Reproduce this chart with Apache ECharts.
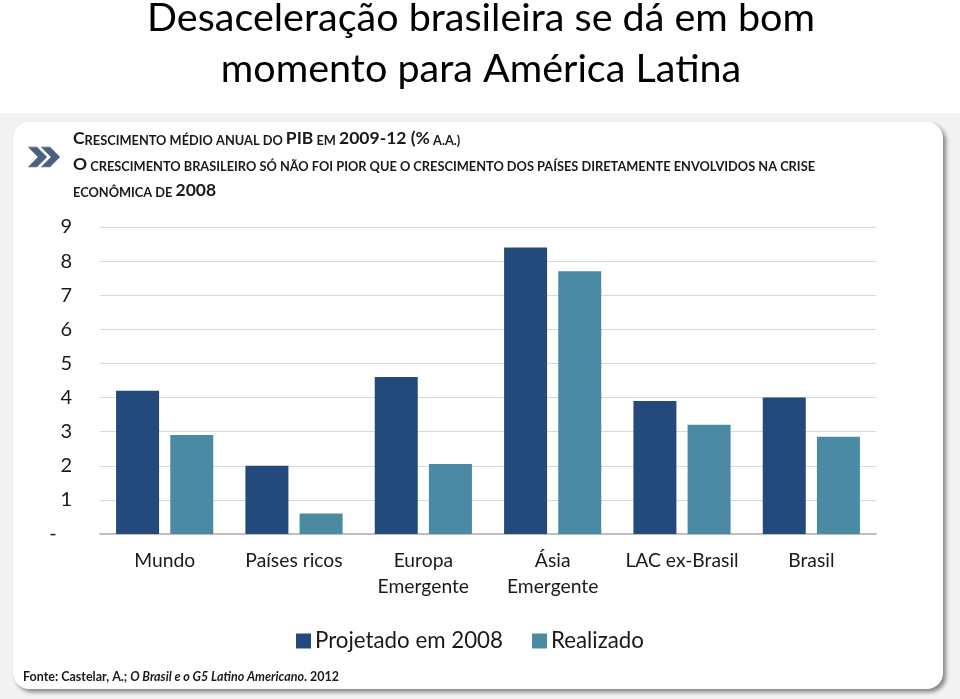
<!DOCTYPE html>
<html>
<head>
<meta charset="utf-8">
<script src="https://cdn.jsdelivr.net/npm/echarts@6/dist/echarts.min.js"></script>
<style>html,body{margin:0;padding:0;background:#f2f2f2}#c{width:960px;height:699px}</style>
</head>
<body>
<div id="c"></div>
<script>
// ---- data ----
const categories = ['Mundo', 'Países ricos', 'Europa\nEmergente', 'Ásia\nEmergente', 'LAC ex-Brasil', 'Brasil'];
const projetado = [4.2, 2.0, 4.6, 8.4, 3.9, 4.0];
const realizado = [2.9, 0.6, 2.05, 7.7, 3.2, 2.85];
const seriesNames = ['Projetado em 2008', 'Realizado'];
const yMin = 0, yMax = 9, yStep = 1;

const FONT = 'Lato, "Noto Sans", sans-serif';
const chart = echarts.init(document.getElementById('c'));

const B = { fontFamily: FONT, fontWeight: 'bold', fontSize: 17.5, color: '#1a1a1a', lineHeight: 26, verticalAlign: 'bottom' };
const S = { fontFamily: FONT, fontWeight: 'bold', fontSize: 12.8, color: '#1a1a1a', lineHeight: 22.5, verticalAlign: 'bottom' };

chart.setOption({
  backgroundColor: '#f2f2f2',
  animation: false,
  graphic: [
    { type: 'rect', z: -10, shape: { x: 0, y: 0, width: 960, height: 113 }, style: { fill: '#ffffff' } },
    { type: 'rect', z: -9, shape: { x: 13, y: 122, width: 930, height: 567, r: 16 },
      style: { fill: '#ffffff', shadowBlur: 4, shadowOffsetX: 3, shadowOffsetY: 3, shadowColor: 'rgba(0,0,0,0.45)' } },
    { type: 'polygon', z: 5, shape: { points: [[28,147],[37,147],[47,157],[37,167],[28,167],[38,157]] },
      style: { fill: '#4b5f7f', stroke: '#8a9ab3', lineWidth: 0.8 } },
    { type: 'polygon', z: 5, shape: { points: [[41,147],[50,147],[60,157],[50,167],[41,167],[51,157]] },
      style: { fill: '#4b5f7f', stroke: '#8a9ab3', lineWidth: 0.8 } }
  ],
  title: [
    {
      text: 'Desaceleração brasileira se dá em bom\nmomento para América Latina',
      left: 481, textAlign: 'center', top: -7, padding: 0,
      textStyle: { fontFamily: FONT, fontSize: 39.5, fontWeight: 'normal', color: '#000', lineHeight: 51 }
    },
    {
      text: '{B|C}{s|RESCIMENTO MÉDIO ANUAL DO }{B|PIB}{s| EM }{B|2009-12 (%}{s| A.A.)}\n' +
            '{B|O}{s| CRESCIMENTO BRASILEIRO SÓ NÃO FOI PIOR QUE O CRESCIMENTO DOS PAÍSES DIRETAMENTE ENVOLVIDOS NA CRISE}\n' +
            '{s|ECONÔMICA DE }{B|2008}',
      left: 73, top: 121, padding: 0,
      textStyle: { rich: { B: B, s: S } }
    },
    {
      text: '{n|Fonte: Castelar, A.; }{i|O Brasil e o G5 Latino Americano}{n|. 2012}',
      left: 23, top: 670, padding: 0,
      textStyle: { rich: {
        n: { fontFamily: FONT, fontSize: 12.5, color: '#1a1a1a' },
        i: { fontFamily: FONT, fontSize: 12.5, fontStyle: 'italic', color: '#1a1a1a' }
      } }
    }
  ],
  legend: {
    data: seriesNames,
    left: 296, top: 630, padding: 0,
    itemWidth: 15, itemHeight: 15, itemGap: 29,
    icon: 'rect',
    textStyle: { fontFamily: FONT, fontSize: 22.3, color: '#1a1a1a', padding: [0, 0, 0, -1] }
  },
  grid: { left: 100, right: 84, top: 227, bottom: 165, containLabel: false },
  xAxis: {
    type: 'category',
    data: categories,
    axisLine: { lineStyle: { color: '#bfbfbf', width: 2 } },
    axisTick: { show: false },
    axisLabel: { fontFamily: FONT, fontSize: 19.3, color: '#1a1a1a', lineHeight: 26, margin: 14, interval: 0 }
  },
  yAxis: {
    type: 'value',
    min: yMin, max: yMax, interval: yStep,
    axisLine: { show: false },
    axisTick: { show: false },
    splitLine: { lineStyle: { color: '#d9d9d9', width: 1 } },
    axisLabel: {
      fontFamily: FONT, fontSize: 20, color: '#1a1a1a', margin: 28,
      formatter: v => v === 0 ? '-   ' : String(v)
    }
  },
  series: [
    { name: seriesNames[0], type: 'bar', data: projetado, barWidth: 43, barGap: '26%',
      itemStyle: { color: '#234a7b' } },
    { name: seriesNames[1], type: 'bar', data: realizado, barWidth: 43,
      itemStyle: { color: '#4a8aa3' } }
  ]
});
</script>
</body>
</html>
